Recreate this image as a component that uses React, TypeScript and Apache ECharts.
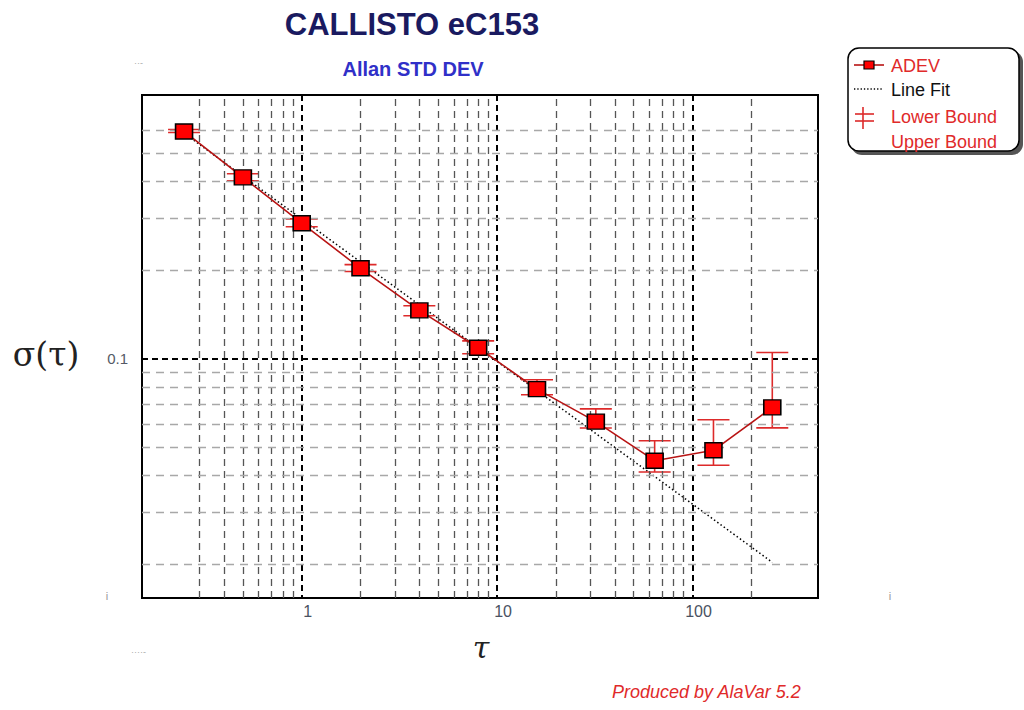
import React, { useEffect, useRef } from "react";
import * as echarts from "echarts";

// ---- data ----
const taus = [0.25, 0.5, 1, 2, 4, 8, 16, 32, 64, 128, 256];
const adev = [0.593, 0.414, 0.289, 0.203, 0.146, 0.109, 0.0788, 0.0611, 0.045, 0.0488, 0.0683];
const lowerBound = [0.588, 0.403, 0.281, 0.198, 0.14, 0.104, 0.0754, 0.0581, 0.0412, 0.0434, 0.0582];
const upperBound = [0.602, 0.426, 0.299, 0.209, 0.1515, 0.115, 0.0848, 0.0675, 0.0526, 0.062, 0.105];
const fitTaus = [0.25, 256];
const fitValues = [0.585, 0.0203];

// axis ranges and grid-line positions
const xRange = [0.1523, 438.7];
const yRange = [0.01535, 0.789];
const xMinorGrid = [0.3, 0.4, 0.5, 0.6, 0.7, 0.8, 0.9, 2, 3, 4, 5, 6, 7, 8, 9, 20, 30, 40, 50, 60, 70, 80, 90, 200];
const yMinorGrid = [0.02, 0.03, 0.04, 0.05, 0.06, 0.07, 0.08, 0.09, 0.2, 0.3, 0.4, 0.5, 0.6];

const RED_TEXT = "#e02a2a";
const SANS = "'Liberation Sans', Arial, sans-serif";
const SERIF = "'DejaVu Serif', 'Liberation Serif', serif";

export default function App() {
  const ref = useRef<HTMLDivElement>(null);

  useEffect(() => {
    if (!ref.current) return;
    const chart = echarts.init(ref.current, undefined, { renderer: "svg" });

    const adevData = taus.map((t, i) => [t, adev[i]]);
    const errData = taus.map((t, i) => [t, lowerBound[i], upperBound[i]]);
    const fitData = fitTaus.map((t, i) => [t, fitValues[i]]);

    const option: any = {
      animation: false,
      backgroundColor: "#fff",
      grid: {
        left: 142,
        top: 95,
        width: 676,
        height: 503,
        show: true,
        borderColor: "#000",
        borderWidth: 2,
        backgroundColor: "#fff",
        containLabel: false,
      },
      xAxis: {
        type: "log",
        logBase: 10,
        min: xRange[0],
        max: xRange[1],
        axisLine: { show: false },
        axisTick: { show: false },
        axisLabel: {
          showMinLabel: false,
          showMaxLabel: false,
          margin: 5,
          fontFamily: SANS,
          fontSize: 16,
          color: "#4a5262",
          padding: [0, 0, 0, 12],
        },
        splitLine: { show: true, lineStyle: { color: "#000", width: 2, type: [6, 4] } },
      },
      yAxis: {
        type: "log",
        logBase: 10,
        min: yRange[0],
        max: yRange[1],
        axisLine: { show: false },
        axisTick: { show: false },
        axisLabel: {
          showMinLabel: false,
          showMaxLabel: false,
          margin: 14,
          fontFamily: SANS,
          fontSize: 15,
          color: "#555a66",
        },
        splitLine: { show: true, lineStyle: { color: "#000", width: 2, type: [6, 4] } },
      },
      series: [
        {
          name: "gridX",
          type: "line",
          data: [],
          z: 1,
          silent: true,
          markLine: {
            silent: true,
            symbol: ["none", "none"],
            label: { show: false },
            lineStyle: { color: "#555", width: 1.3, type: [7, 5] },
            data: xMinorGrid.map((v) => ({ xAxis: v })),
          },
        },
        {
          name: "gridY",
          type: "line",
          data: [],
          z: 1,
          silent: true,
          markLine: {
            silent: true,
            symbol: ["none", "none"],
            label: { show: false },
            lineStyle: { color: "#a8a8a8", width: 1.3, type: [8, 6] },
            data: yMinorGrid.map((v) => ({ yAxis: v })),
          },
        },
        {
          name: "Line Fit",
          type: "line",
          data: fitData,
          z: 3,
          symbol: "none",
          lineStyle: { color: "#000", width: 1.5, type: [1.5, 2.5] },
        },
        {
          name: "Bounds",
          type: "custom",
          z: 4,
          data: errData,
          encode: { x: 0, y: [1, 2] },
          renderItem: (params: any, api: any) => {
            const x = api.value(0);
            const lo = api.value(1);
            const hi = api.value(2);
            const top = api.coord([x, hi]);
            const bot = api.coord([x, lo]);
            const hw = 16;
            const style = { stroke: "#dd2a2a", lineWidth: 1.6 };
            return {
              type: "group",
              children: [
                { type: "line", shape: { x1: top[0], y1: top[1], x2: bot[0], y2: bot[1] }, style },
                { type: "line", shape: { x1: top[0] - hw, y1: top[1], x2: top[0] + hw, y2: top[1] }, style },
                { type: "line", shape: { x1: bot[0] - hw, y1: bot[1], x2: bot[0] + hw, y2: bot[1] }, style },
              ],
            };
          },
        },
        {
          name: "ADEV",
          type: "line",
          data: adevData,
          z: 5,
          symbol: "rect",
          symbolSize: [17, 15],
          lineStyle: { color: "#b81414", width: 1.6 },
          itemStyle: { color: "#ff0000", borderColor: "#000", borderWidth: 1.5 },
        },
      ],
      graphic: [
        // titles
        {
          type: "text",
          x: 412,
          y: 24,
          style: {
            text: "CALLISTO eC153",
            fontFamily: SANS,
            fontWeight: "bold",
            fontSize: 31,
            fill: "#1a1a60",
            align: "center",
            verticalAlign: "middle",
          },
        },
        {
          type: "text",
          x: 413,
          y: 69,
          style: {
            text: "Allan STD DEV",
            fontFamily: SANS,
            fontWeight: "bold",
            fontSize: 20,
            fill: "#3030c8",
            align: "center",
            verticalAlign: "middle",
          },
        },
        // axis names
        {
          type: "text",
          x: 46,
          y: 354,
          style: {
            text: "σ(τ)",
            fontFamily: SERIF,
            fontSize: 33,
            fill: "#222",
            align: "center",
            verticalAlign: "middle",
          },
        },
        {
          type: "text",
          x: 481,
          y: 647,
          style: {
            text: "τ",
            fontFamily: SERIF,
            fontStyle: "italic",
            fontSize: 30,
            fill: "#222",
            align: "center",
            verticalAlign: "middle",
          },
        },
        // credit
        {
          type: "text",
          x: 612,
          y: 692,
          style: {
            text: "Produced by AlaVar 5.2",
            fontFamily: SANS,
            fontStyle: "italic",
            fontSize: 18,
            fill: RED_TEXT,
            align: "left",
            verticalAlign: "middle",
          },
        },
        // stray marks
        { type: "text", x: 134, y: 63, style: { text: "··-", fontSize: 9, fill: "#aaa", fontFamily: SANS, verticalAlign: "middle" } },
        { type: "text", x: 107, y: 596, style: { text: "i", fontSize: 11, fill: "#999", fontFamily: SANS, align: "center", verticalAlign: "middle" } },
        { type: "text", x: 890, y: 596, style: { text: "i", fontSize: 11, fill: "#999", fontFamily: SANS, align: "center", verticalAlign: "middle" } },
        { type: "text", x: 131, y: 652, style: { text: "····-", fontSize: 9, fill: "#aaa", fontFamily: SANS, verticalAlign: "middle" } },
        // legend
        {
          type: "rect",
          shape: { x: 851, y: 51, width: 172, height: 104, r: 11 },
          style: { fill: "#555", stroke: "none" },
        },
        {
          type: "rect",
          shape: { x: 848, y: 48, width: 171, height: 103, r: 11 },
          style: { fill: "#fff", stroke: "#000", lineWidth: 1.5 },
        },
        { type: "line", shape: { x1: 854, y1: 65, x2: 884, y2: 65 }, style: { stroke: "#b81414", lineWidth: 1.6 } },
        { type: "rect", shape: { x: 864, y: 61, width: 10, height: 8 }, style: { fill: "#ff0000", stroke: "#000", lineWidth: 1.2 } },
        { type: "text", x: 891, y: 66, style: { text: "ADEV", fontFamily: SANS, fontSize: 18, fill: RED_TEXT, verticalAlign: "middle" } },
        { type: "line", shape: { x1: 854, y1: 89, x2: 883, y2: 89 }, style: { stroke: "#000", lineWidth: 1.3, lineDash: [1.3, 2] } },
        { type: "text", x: 891, y: 90, style: { text: "Line Fit", fontFamily: SANS, fontSize: 18, fill: "#111", verticalAlign: "middle" } },
        { type: "line", shape: { x1: 855, y1: 114, x2: 874, y2: 114 }, style: { stroke: "#dd2a2a", lineWidth: 1.6 } },
        { type: "line", shape: { x1: 855, y1: 121, x2: 874, y2: 121 }, style: { stroke: "#dd2a2a", lineWidth: 1.6 } },
        { type: "line", shape: { x1: 863, y1: 107, x2: 863, y2: 129 }, style: { stroke: "#dd2a2a", lineWidth: 1.6 } },
        { type: "text", x: 891, y: 117, style: { text: "Lower Bound", fontFamily: SANS, fontSize: 18, fill: RED_TEXT, verticalAlign: "middle" } },
        { type: "text", x: 891, y: 142, style: { text: "Upper Bound", fontFamily: SANS, fontSize: 18, fill: RED_TEXT, verticalAlign: "middle" } },
      ],
    };

    chart.setOption(option);
    return () => chart.dispose();
  }, []);

  return (
    <div
      ref={ref}
      style={{ position: "absolute", left: 0, top: 0, width: 1024, height: 710, background: "#fff" }}
    />
  );
}
